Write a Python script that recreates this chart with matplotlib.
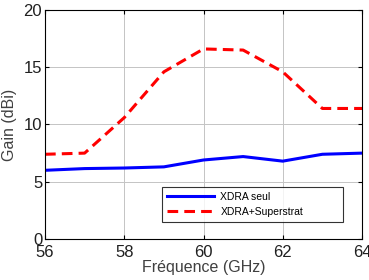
import matplotlib
matplotlib.use('Agg')
import matplotlib.pyplot as plt

freq = [56, 57, 58, 59, 60, 61, 62, 63, 64]
gain_seul = [6.0, 6.15, 6.2, 6.3, 6.9, 7.2, 6.8, 7.4, 7.5]
gain_super = [7.4, 7.5, 10.6, 14.6, 16.6, 16.5, 14.6, 11.4, 11.4]
labels = ['XDRA seul', 'XDRA+Superstrat']

plt.rcParams['font.family'] = ['Liberation Sans', 'DejaVu Sans']

fig = plt.figure(figsize=(3.69, 2.8), dpi=100)
ax = fig.add_axes([45/369, 41/280, 317/369, 229/280])

ax.plot(freq, gain_seul, color='#0000ff', lw=2.2, label=labels[0])
ax.plot(freq, gain_super, color='#ff0000', lw=2.2, ls=(0, (3.5, 2)), label=labels[1])

ax.set_xlim(56, 64)
ax.set_ylim(0, 20)
ax.set_xticks([56, 58, 60, 62, 64])
ax.set_yticks([0, 5, 10, 15, 20])
ax.grid(True, color='#c4c4c4', lw=0.7)
ax.tick_params(direction='in', top=True, right=True, labelsize=12, pad=2, length=3,
               labelcolor='#202020')
ax.tick_params(axis='x', pad=4)
for s in ax.spines.values():
    s.set_linewidth(0.8)
ax.set_xlabel('Fréquence (GHz)', fontsize=11.5, color='#404040', labelpad=0)
ax.set_ylabel('Gain (dBi)', fontsize=11.5, color='#404040', labelpad=5)

leg = ax.legend(loc='lower left', bbox_to_anchor=(162/369, 1 - 222/280, 181/369, 37/280),
                bbox_transform=fig.transFigure, mode='expand',
                fontsize=7.5, frameon=True, fancybox=False, edgecolor='black',
                handlelength=4.5, handletextpad=0.6, borderpad=0.5, labelspacing=0.45,
                borderaxespad=0)
leg.get_frame().set_linewidth(0.8)

fig.savefig('out.png', dpi=100)
